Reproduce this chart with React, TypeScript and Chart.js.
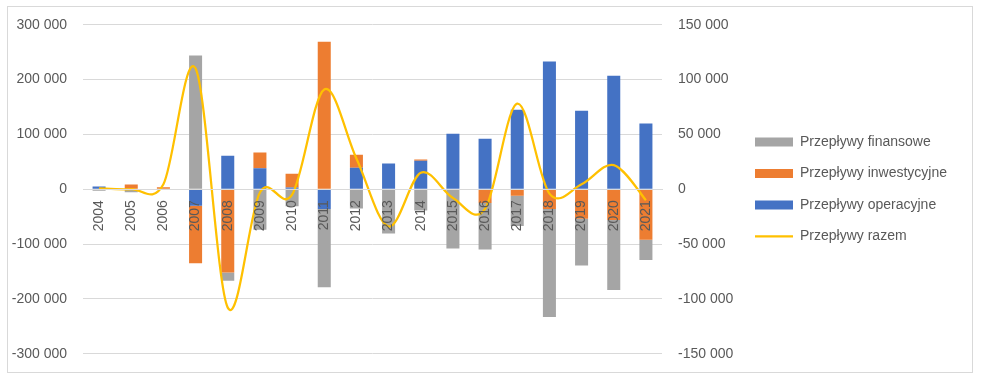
import React, { useEffect, useRef } from 'react';
import { Chart, registerables } from 'chart.js';

Chart.register(...registerables);

const years = ['2004', '2005', '2006', '2007', '2008', '2009', '2010', '2011', '2012', '2013', '2014', '2015', '2016', '2017', '2018', '2019', '2020', '2021'];
const operacyjne = [5000, 0, 0, -30000, 61000, 38000, 3000, -36000, 39000, 47000, 52000, 101000, 92000, 145000, 233000, 143000, 207000, 120000];
const inwestycyjne = [0, 8500, 3500, -105000, -152000, 29000, 25000, 269000, 24000, 0, 2000, 0, -25000, -12000, -36000, -54000, -56000, -92000];
const finansowe = [-3000, -5500, 0, 244000, -15000, -74000, -31000, -143000, -35000, -81000, -39000, -108000, -85000, -55000, -197000, -85000, -128000, -37000];
const razem = [700, 0, 4500, 110000, -108000, -3000, -5000, 91000, 28000, -34000, 15000, -8000, -18000, 78000, -4000, 4500, 22000, -10000];

const seriesNames = ['Przepływy operacyjne', 'Przepływy inwestycyjne', 'Przepływy finansowe', 'Przepływy razem'];
const seriesColors = ['#4472C4', '#ED7D31', '#A5A5A5', '#FFC000'];
const legendOrder = [2, 1, 0, 3];

const FONT = "'Liberation Sans', Arial, sans-serif";
const FONT_SIZE = 14;
const TEXT = '#595959';
const GRID = '#d9d9d9';

const CANVAS_W = 964;
const CANVAS_H = 365;
const LEGEND_LEFT = 729.5;
const LEGEND_PAD = 17.5;
const LEGEND_BOX_W = 38;

function fmt(v: number): string {
  const s = Math.abs(Math.round(v)).toString().replace(/\B(?=(\d{3})+(?!\d))/g, ' ');
  return (v < 0 ? '-' : '') + s;
}

// Excel-like smoothing (Catmull-Rom control points at 1/6 of neighbour chord)
const excelSmooth = {
  id: 'excelSmooth',
  beforeDatasetDraw(chart: any, args: any) {
    const meta = args.meta;
    if (meta.type !== 'line') return;
    const line = meta.dataset;
    line.updateControlPoints(chart.chartArea, 'x');
    const pts = meta.data;
    for (let i = 0; i < pts.length; i++) {
      const p = pts[i];
      const prev = pts[Math.max(0, i - 1)];
      const next = pts[Math.min(pts.length - 1, i + 1)];
      const dx = (next.x - prev.x) / 6;
      const dy = (next.y - prev.y) / 6;
      p.cp1x = p.x - dx; p.cp1y = p.y - dy;
      p.cp2x = p.x + dx; p.cp2y = p.y + dy;
    }
    line._path = undefined;
  },
};

export default function App() {
  const ref = useRef<HTMLCanvasElement>(null);
  useEffect(() => {
    if (!ref.current) return;
    const mctx = document.createElement('canvas').getContext('2d')!;
    mctx.font = `${FONT_SIZE}px ${FONT}`;
    const maxText = Math.max(...seriesNames.map((t) => mctx.measureText(t).width));
    const legendW = LEGEND_PAD + LEGEND_BOX_W + FONT_SIZE / 2 + maxText;
    const padRight = Math.max(0, CANVAS_W - LEGEND_LEFT - legendW - 1);

    const chart = new Chart(ref.current, {
      type: 'bar',
      data: {
        labels: years,
        datasets: [
          { label: seriesNames[0], data: operacyjne, backgroundColor: seriesColors[0], yAxisID: 'y', categoryPercentage: 1, barPercentage: 0.405 },
          { label: seriesNames[1], data: inwestycyjne, backgroundColor: seriesColors[1], yAxisID: 'y', categoryPercentage: 1, barPercentage: 0.405 },
          { label: seriesNames[2], data: finansowe, backgroundColor: seriesColors[2], yAxisID: 'y', categoryPercentage: 1, barPercentage: 0.405 },
          {
            type: 'line', label: seriesNames[3], data: razem, borderColor: seriesColors[3], backgroundColor: seriesColors[3],
            borderWidth: 2.25, pointRadius: 0, tension: 0.4, yAxisID: 'y1', order: -1, fill: false,
          } as any,
        ],
      },
      options: {
        responsive: false,
        animation: false,
        layout: { padding: { left: 0, right: padRight, top: 17.7, bottom: 18.3 } },
        plugins: {
          tooltip: { enabled: false },
          legend: {
            position: 'right',
            maxWidth: legendW + 1,
            labels: {
              usePointStyle: true,
              pointStyleWidth: LEGEND_BOX_W,
              boxHeight: 9,
              padding: LEGEND_PAD,
              color: TEXT,
              font: { family: FONT, size: FONT_SIZE },
              generateLabels: () =>
                legendOrder.map((i) => ({
                  text: seriesNames[i],
                  fillStyle: seriesColors[i],
                  strokeStyle: seriesColors[i],
                  lineWidth: i === 3 ? 2.25 : 0,
                  pointStyle: i === 3 ? 'line' : 'rect',
                  hidden: false,
                  datasetIndex: i,
                  fontColor: TEXT,
                })),
            },
          } as any,
        },
        scales: {
          x: {
            type: 'category',
            stacked: true,
            offset: true,
            position: { y: 0 } as any,
            grid: { display: false, drawTicks: false },
            border: { display: true, color: GRID, width: 1, z: 1 },
            ticks: {
              autoSkip: false, minRotation: 90, maxRotation: 90, padding: 11,
              color: TEXT, font: { family: FONT, size: FONT_SIZE }, z: 1,
            },
          },
          y: {
            position: 'left',
            stacked: true,
            min: -300000, max: 300000,
            grid: { color: GRID, lineWidth: 1, drawTicks: false },
            border: { display: false },
            ticks: { stepSize: 100000, padding: 16, color: TEXT, font: { family: FONT, size: FONT_SIZE }, callback: (v: any) => fmt(Number(v)) },
            afterFit: (s: any) => { s.width = 75; s.paddingTop = 0; s.paddingBottom = 0; },
          },
          y1: {
            position: 'right',
            min: -150000, max: 150000,
            grid: { drawOnChartArea: false, drawTicks: false },
            border: { display: false },
            ticks: { stepSize: 50000, padding: 16, color: TEXT, font: { family: FONT, size: FONT_SIZE }, callback: (v: any) => fmt(Number(v)) },
            afterFit: (s: any) => { s.width = 75.5; s.paddingTop = 0; s.paddingBottom = 0; },
          },
        },
      } as any,
      plugins: [excelSmooth],
    });
    return () => chart.destroy();
  }, []);

  return (
    <div style={{ position: 'absolute', left: 7, top: 6, width: 966, height: 367, border: '1px solid #d9d9d9', boxSizing: 'border-box', background: '#fff' }}>
      <canvas ref={ref} width={CANVAS_W} height={CANVAS_H} style={{ display: 'block' }} />
    </div>
  );
}
